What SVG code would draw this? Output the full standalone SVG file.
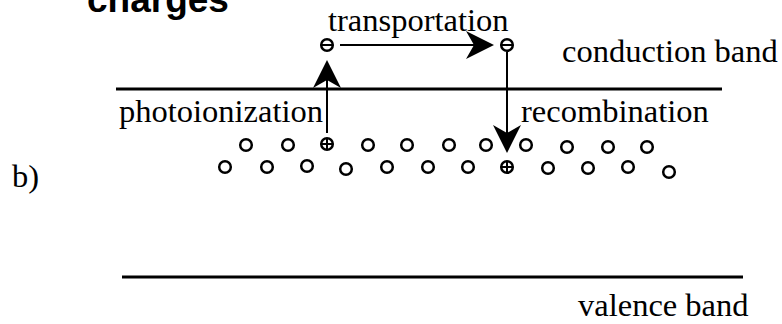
<svg xmlns="http://www.w3.org/2000/svg" width="782" height="324" viewBox="0 0 782 324">
  <style>
    .lbl { font-family: "Liberation Serif", "Times New Roman", serif; font-size: 32.5px; fill: #000; }
    .title { font-family: "Liberation Sans", Arial, sans-serif; font-weight: bold; font-size: 37px; fill: #000; }
    .band { stroke: #000; stroke-width: 3; fill: none; }
    .shaft { stroke: #000; stroke-width: 2; fill: none; }
    .trap { stroke: #000; stroke-width: 2.5; fill: #fff; }
    .sign { stroke: #000; stroke-width: 2; fill: none; }
    .head { fill: #000; }
  </style>
  <defs>
    <circle id="trap" r="5.8" class="trap"/>
    <g id="electron">
      <circle r="5.8" class="trap"/>
      <line x1="-5.5" y1="0" x2="5.5" y2="0" class="sign"/>
    </g>
    <g id="hole">
      <circle r="5.8" class="trap"/>
      <line x1="-5.5" y1="0" x2="5.5" y2="0" class="sign"/>
      <line x1="0" y1="-5.5" x2="0" y2="5.5" class="sign"/>
    </g>
    <!-- filled barbed arrowhead, tip at origin pointing up -->
    <path id="headUp" class="head" d="M0,0 L14,28 L0,20 L-14,28 Z"/>
  </defs>

  <text class="title" x="87" y="12">charges</text>
  <text class="lbl" x="12" y="187">b)</text>

  <!-- energy bands -->
  <g id="conduction-band">
    <line x1="116" y1="89" x2="722" y2="89" class="band"/>
    <text class="lbl" x="562" y="62">conduction band</text>
  </g>
  <g id="valence-band">
    <line x1="122" y1="277" x2="743" y2="277" class="band"/>
    <text class="lbl" x="578" y="316">valence band</text>
  </g>

  <!-- trap levels -->
  <g id="traps">
    <use href="#trap" x="246" y="145"/>
    <use href="#trap" x="288" y="145"/>
    <use href="#trap" x="368" y="145"/>
    <use href="#trap" x="407" y="145"/>
    <use href="#trap" x="449" y="145"/>
    <use href="#trap" x="486" y="145"/>
    <use href="#trap" x="526" y="145"/>
    <use href="#trap" x="567" y="147"/>
    <use href="#trap" x="608" y="147"/>
    <use href="#trap" x="647" y="147"/>
    <use href="#trap" x="225" y="167"/>
    <use href="#trap" x="267" y="167"/>
    <use href="#trap" x="307" y="166"/>
    <use href="#trap" x="346" y="169"/>
    <use href="#trap" x="387" y="167"/>
    <use href="#trap" x="428" y="167"/>
    <use href="#trap" x="468" y="167"/>
    <use href="#trap" x="548" y="168"/>
    <use href="#trap" x="588" y="168"/>
    <use href="#trap" x="628" y="167"/>
    <use href="#trap" x="669" y="172"/>
  </g>

  <g id="hole-left"><use href="#hole" x="327" y="144"/></g>
  <g id="hole-right"><use href="#hole" x="507" y="167"/></g>
  <g id="electron-left"><use href="#electron" x="327" y="45"/></g>
  <g id="electron-right"><use href="#electron" x="507" y="45"/></g>

  <!-- transitions -->
  <g id="connectors">
    <g id="photoionization">
      <line x1="327" y1="133" x2="327" y2="66" class="shaft"/>
      <use href="#headUp" transform="translate(327,60)"/>
    </g>
    <g id="transportation">
      <line x1="340" y1="45" x2="488" y2="45" class="shaft"/>
      <use href="#headUp" transform="translate(494,45) rotate(90)"/>
    </g>
    <g id="recombination">
      <line x1="507" y1="52" x2="507" y2="146" class="shaft"/>
      <use href="#headUp" transform="translate(507,153) rotate(180)"/>
    </g>
  </g>

  <text class="lbl" x="328" y="31">transportation</text>
  <text class="lbl" x="119" y="122">photoionization</text>
  <text class="lbl" x="521" y="122">recombination</text>
</svg>
